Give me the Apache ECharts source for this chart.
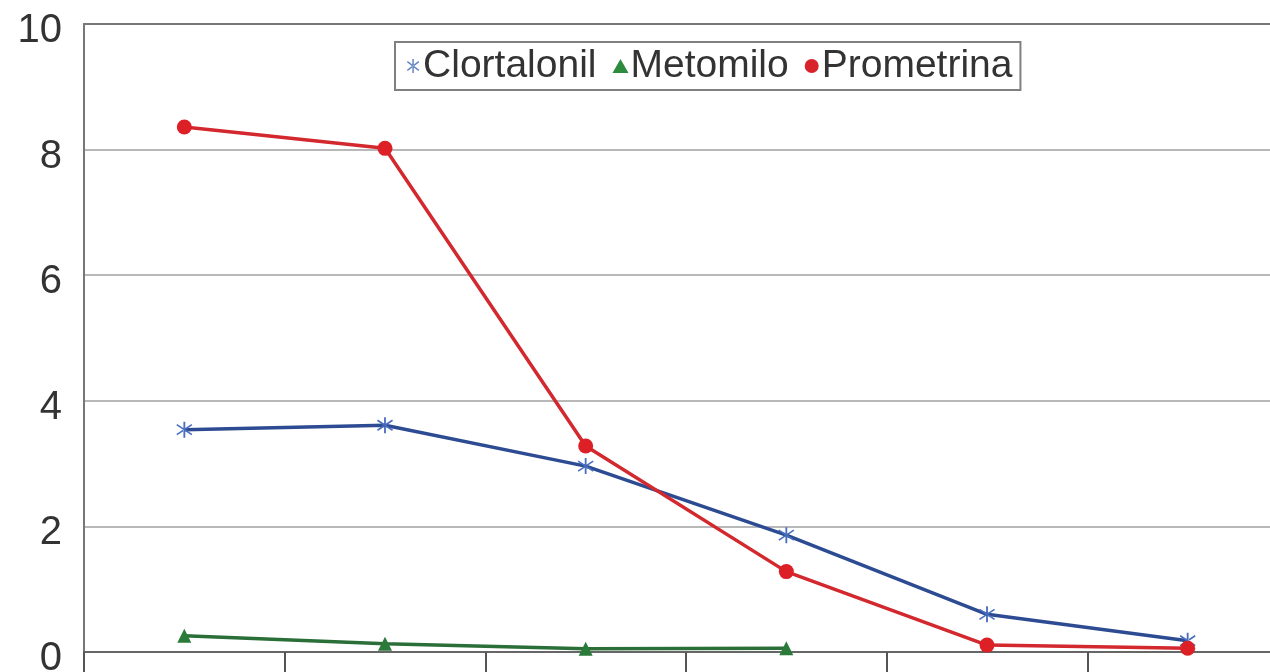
<!DOCTYPE html>
<html>
<head>
<meta charset="utf-8">
<script src="https://cdn.jsdelivr.net/npm/echarts@6/dist/echarts.min.js"></script>
<style>
  html, body { margin: 0; padding: 0; background: #fff; }
  #chart { width: 1270px; height: 672px; }
</style>
</head>
<body>
<div id="chart"></div>
<script>
// Sampling times (labels not shown under the axis)
const categories = ['1', '2', '3', '4', '5', '6'];

// Residue concentration per compound
const clortalonil = [3.54, 3.61, 2.96, 1.86, 0.60, 0.18];
const metomilo = [0.26, 0.13, 0.05, 0.06, null, null];
const prometrina = [8.36, 8.02, 3.28, 1.28, 0.11, 0.06];

const yTicks = { min: 0, max: 10, interval: 2 };

// Six-pointed asterisk marker
const asterisk = 'path://M9,0L11,0L11,20L9,20Z M1.3,4.6L2.3,2.9L18.7,15.4L17.7,17.1Z M1.3,15.4L2.3,17.1L18.7,4.6L17.7,2.9Z';

const font = 'Liberation Sans, Arial, sans-serif';

const chart = echarts.init(document.getElementById('chart'));

chart.setOption({
  animation: false,
  backgroundColor: '#ffffff',
  // plot runs past the right edge of the canvas
  grid: { left: 84, top: 24, width: 1204, bottom: 20, outerBoundsMode: 'none', containLabel: false },
  legend: {
    left: 395,
    top: 42,
    padding: [4, 8, 4, 12],
    borderColor: '#808080',
    borderWidth: 2,
    itemGap: 16,
    itemWidth: 16,
    itemHeight: 14,
    textStyle: { fontFamily: font, fontSize: 39, lineHeight: 40, color: '#333333', padding: [0, 0, 0, -3] },
    data: [
      { name: 'Clortalonil', icon: asterisk, itemStyle: { color: '#5b7fc4' } },
      { name: 'Metomilo', icon: 'triangle', itemStyle: { color: '#2e8b3e' } },
      { name: 'Prometrina', icon: 'circle', itemStyle: { color: '#d9232b' } }
    ]
  },
  xAxis: [
    {
      type: 'category',
      data: categories,
      boundaryGap: true,
      axisLine: { lineStyle: { color: '#666666', width: 2 } },
      axisTick: { show: true, length: 22, lineStyle: { color: '#555555', width: 2 } },
      axisLabel: { show: false },
      splitLine: { show: false }
    },
    {
      type: 'category',
      position: 'top',
      data: categories,
      axisLine: { lineStyle: { color: '#777777', width: 2 } },
      axisTick: { show: false },
      axisLabel: { show: false }
    }
  ],
  yAxis: {
    type: 'value',
    min: yTicks.min,
    max: yTicks.max,
    interval: yTicks.interval,
    axisLine: { show: true, lineStyle: { color: '#777777', width: 2 } },
    axisTick: { show: false },
    axisLabel: {
      margin: 22,
      formatter: '{t|{value}}',
      rich: {
        t: {
          fontFamily: font,
          fontSize: 40,
          color: '#333333',
          padding: [14, 0, 0, 0]
        }
      }
    },
    splitLine: { lineStyle: { color: '#b8b8b8', width: 2 } }
  },
  series: [
    {
      name: 'Clortalonil',
      type: 'line',
      data: clortalonil,
      symbol: asterisk,
      symbolSize: 16,
      lineStyle: { color: '#2c4b92', width: 3.5 },
      itemStyle: { color: '#4a6fc0' },
      z: 3
    },
    {
      name: 'Metomilo',
      type: 'line',
      data: metomilo,
      symbol: 'triangle',
      symbolSize: 14,
      lineStyle: { color: '#2a6e38', width: 3.5 },
      itemStyle: { color: '#2a7a3a' },
      z: 2
    },
    {
      name: 'Prometrina',
      type: 'line',
      data: prometrina,
      symbol: 'circle',
      symbolSize: 15,
      lineStyle: { color: '#d2282e', width: 3.5 },
      itemStyle: { color: '#dd1f26' },
      z: 4
    }
  ]
});
</script>
</body>
</html>
